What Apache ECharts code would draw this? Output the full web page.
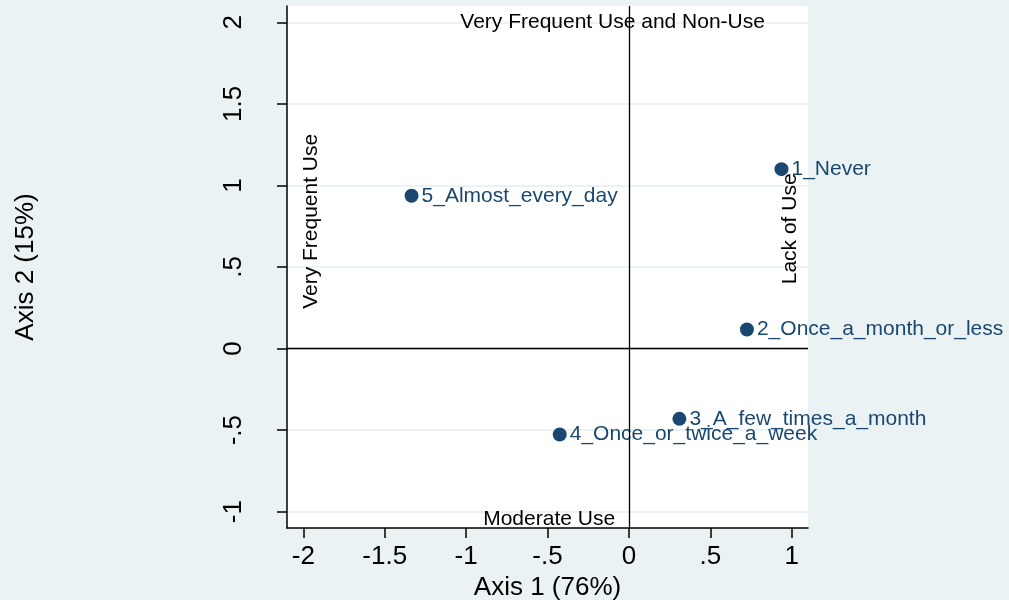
<!DOCTYPE html>
<html lang="en">
<head>
    <meta charset="UTF-8">
    <title>Correspondence analysis</title>
    <style>
        html, body { margin: 0; padding: 0; background: #EAF2F3; }
    </style>
</head>
<body>
    <div id="main" style="width: 1009px;height:600px;"></div>
</body>
<script src="https://cdn.jsdelivr.net/npm/echarts@6/dist/echarts.min.js"></script>
<script type="text/javascript">
    // category coordinates (axis 1, axis 2)
    var categories = ['1_Never', '2_Once_a_month_or_less', '3_A_few_times_a_month', '4_Once_or_twice_a_week', '5_Almost_every_day'];
    var axis1 = [0.937, 0.725, 0.31, -0.425, -1.335];
    var axis2 = [1.10, 0.117, -0.431, -0.527, 0.937];

    // tick labels
    var xTicks = [-2, -1.5, -1, -0.5, 0, 0.5, 1];
    var yTicks = [-1, -0.5, 0, 0.5, 1, 1.5, 2];

    // annotation texts placed in data space
    var noteText = ['Very Frequent Use and Non-Use', 'Moderate Use', 'Very Frequent Use', 'Lack of Use'];
    var noteX = [-0.1, -0.49, -1.953, 0.99];
    var noteY = [2.0, -1.045, 0.78, 0.734];
    var noteRotate = [0, 0, 90, 90];

    var navy = '#1A476F';
    var font = 'Liberation Sans, Arial, sans-serif';

    // stata style: drop leading zero
    function fmt(v) {
        var s = String(v);
        return s.replace(/^0\./, '.').replace(/^-0\./, '-.');
    }

    var pts = [];
    for (var i = 0; i < categories.length; i++) {
        pts.push({ value: [axis1[i], axis2[i]], name: categories[i] });
    }
    var notes = [];
    for (var j = 0; j < noteText.length; j++) {
        notes.push({
            value: [noteX[j], noteY[j]],
            name: noteText[j],
            label: { rotate: noteRotate[j] }
        });
    }

    var myChart = echarts.init(document.getElementById('main'));
    var option = {
        backgroundColor: '#EAF2F3',
        animation: false,
        grid: {
            left: 287, top: 6, right: 201, bottom: 72,
            outerBoundsMode: 'none', containLabel: false,
            show: true, backgroundColor: '#ffffff', borderWidth: 0
        },
        xAxis: {
            type: 'value', min: -2.1, max: 1.1,
            name: 'Axis 1 (76%)', nameLocation: 'middle', nameGap: 43,
            nameTextStyle: { fontSize: 26, color: '#000', fontFamily: font },
            axisLine: { show: true, onZero: false, lineStyle: { color: '#000', width: 1.5 } },
            axisTick: { show: true, length: 10, customValues: xTicks, lineStyle: { color: '#000', width: 1.5 } },
            axisLabel: { customValues: xTicks, formatter: fmt, fontSize: 26, color: '#000', fontFamily: font, margin: 16 },
            splitLine: { show: false }
        },
        yAxis: {
            type: 'value', min: -1.1, max: 2.1,
            name: 'Axis 2 (15%)', nameLocation: 'middle', nameGap: 248,
            nameTextStyle: { fontSize: 26, color: '#000', fontFamily: font },
            axisLine: { show: true, onZero: false, lineStyle: { color: '#000', width: 1.5 } },
            axisTick: { show: true, length: 10, customValues: yTicks, lineStyle: { color: '#000', width: 1.5 } },
            axisLabel: { customValues: yTicks, formatter: fmt, rotate: 90, fontSize: 26, color: '#000', fontFamily: font, margin: 40 },
            splitLine: { show: true, lineStyle: { color: '#EAF2F3', width: 2 } }
        },
        series: [{
            type: 'scatter',
            data: pts,
            symbol: 'circle',
            symbolSize: 14,
            itemStyle: { color: navy, opacity: 1 },
            label: {
                show: true, position: 'right', distance: 3,
                formatter: '{b}', color: navy, fontSize: 21, fontFamily: font
            },
            markLine: {
                silent: true, symbol: 'none',
                label: { show: false },
                lineStyle: { color: '#000', width: 1.3, type: 'solid', opacity: 1 },
                data: [{ xAxis: 0 }, { yAxis: 0 }],
                z: 5
            },
            z: 3
        }, {
            type: 'scatter',
            data: notes,
            symbolSize: 0,
            itemStyle: { opacity: 1 },
            label: {
                show: true, position: 'inside',
                formatter: '{b}', color: '#000', fontSize: 21, fontFamily: font
            },
            z: 4
        }]
    };
    myChart.setOption(option);
</script>
</html>
